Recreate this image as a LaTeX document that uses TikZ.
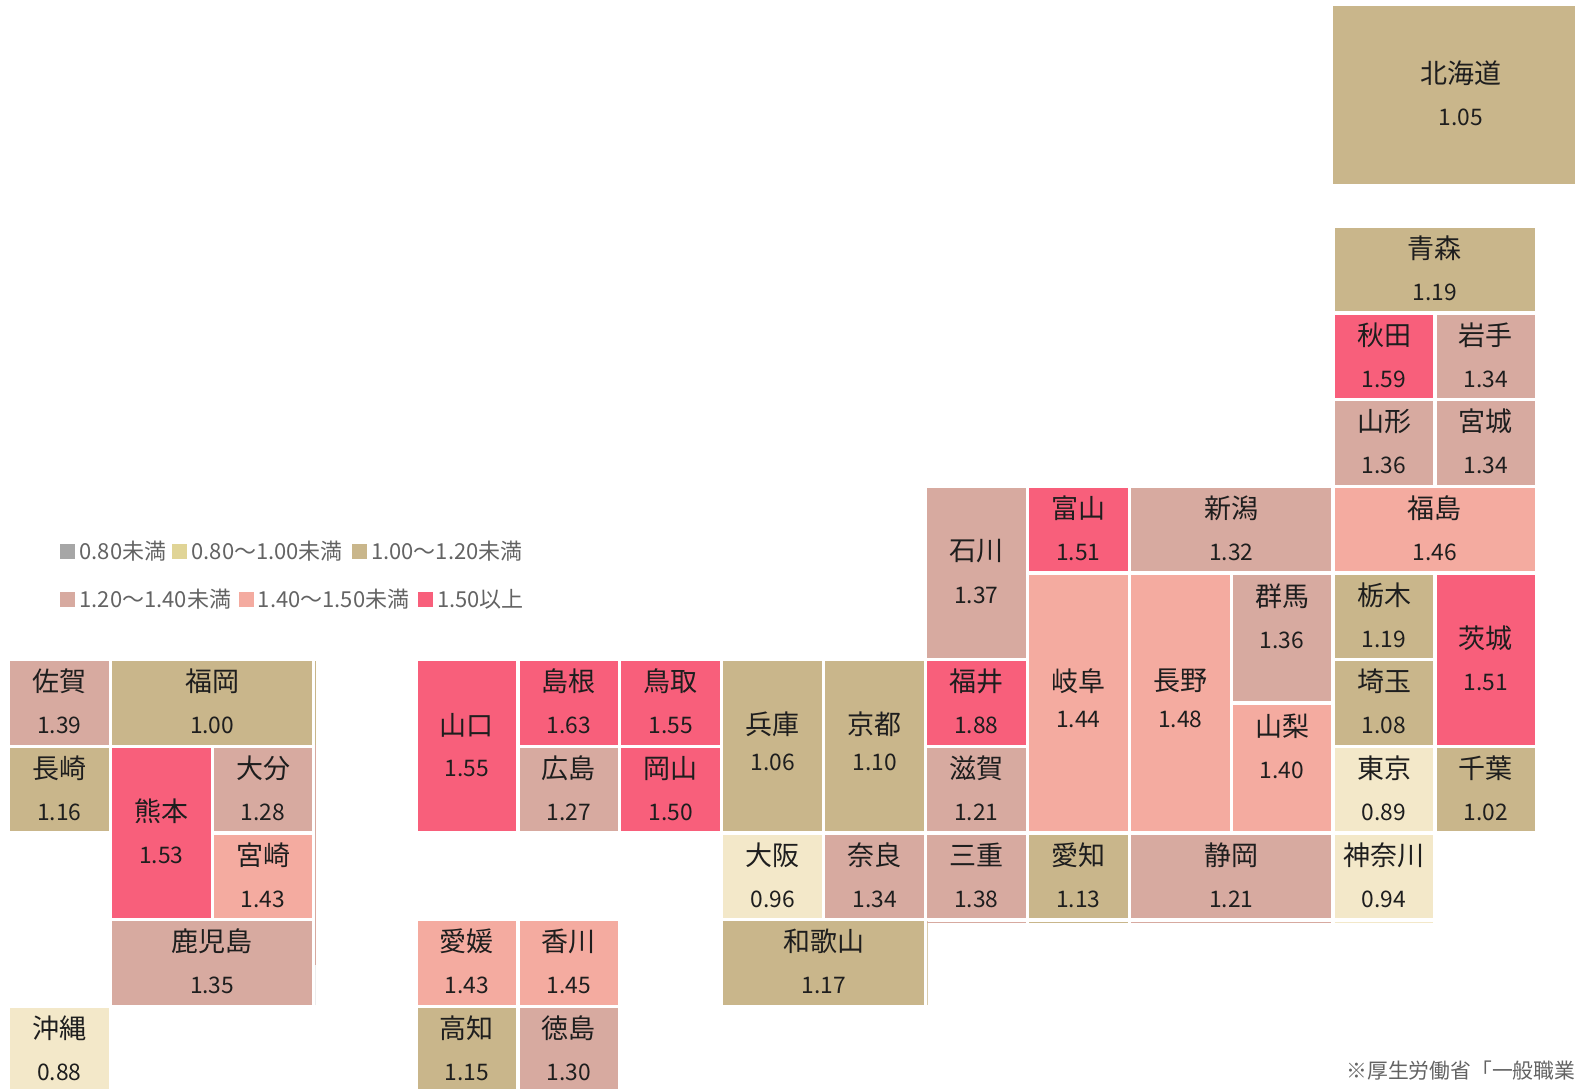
\documentclass[tikz,border=0pt]{standalone}
\usepackage{fontspec}
\setmainfont{Noto Sans CJK JP}

\definecolor{lvA}{HTML}{A6A6A6}
\definecolor{lvB}{HTML}{F3E8C9}
\definecolor{lvBkey}{HTML}{E0D496}
\definecolor{lvC}{HTML}{C9B68B}
\definecolor{lvD}{HTML}{D7AAA0}
\definecolor{lvE}{HTML}{F4ABA0}
\definecolor{lvF}{HTML}{F85F7B}
\definecolor{ink}{HTML}{1E1E1E}
\definecolor{note}{HTML}{636363}

\begin{document}
\begin{tikzpicture}[
    x=0.5pt, y=-0.5pt,
    tile/.style={rectangle, inner sep=0pt, outer sep=0pt, minimum width=49.3pt, minimum height=41.7pt},
    wide/.style={minimum width=100.25pt},
    tall/.style={minimum height=85.035pt},
    taller/.style={minimum height=128.37pt},
    half/.style={minimum height=63.35pt},
    pname/.style={font=\fontsize{13.5}{16}\selectfont, text=ink, inner sep=0pt},
    pval/.style={font=\fontsize{11.4}{14}\selectfont, text=ink, inner sep=0pt},
    key/.style={rectangle, inner sep=0pt, minimum size=7.5pt},
    keytext/.style={font=\fontsize{11}{13}\selectfont, text=note, inner sep=0pt, anchor=west},
    seam/.style={line width=0.5pt}
  ]

    \useasboundingbox (0,0) rectangle (1575,1088);
    \clip (0,0) rectangle (1575,1088);

    % Prefecture tile with its name and ratio
    \def\nshift{10.75pt}
    \def\vshift{-11.25pt}
    \def\pref#1#2#3#4#5{%
      \node[tile, #2] (#1) at #3 {};
      \node[pname] (#1-name) at ([yshift=\nshift]#1.center) {#4};
      \node[pval] (#1-val) at ([yshift=\vshift]#1.center) {#5};
    }

    % Hokkaido and Tohoku
    \pref{hokkaido}{fill=lvC, minimum width=128pt, minimum height=89pt}{(1461,95)}{北海道}{1.05}
    \pref{aomori}{fill=lvC, wide}{(1434.95,269.7)}{青森}{1.19}
    \pref{akita}{fill=lvF}{(1384,356.37)}{秋田}{1.59}
    \pref{iwate}{fill=lvD}{(1485.9,356.37)}{岩手}{1.34}
    \pref{yamagata}{fill=lvD}{(1384,443.03)}{山形}{1.36}
    \pref{miyagi}{fill=lvD}{(1485.9,443.03)}{宮城}{1.34}
    \pref{fukushima}{fill=lvE, wide}{(1434.95,529.7)}{福島}{1.46}

    % Kanto
    \pref{tochigi}{fill=lvC}{(1384,616.37)}{栃木}{1.19}
    \pref{ibaraki}{fill=lvF, tall}{(1485.9,659.7)}{茨城}{1.51}
    \pref{saitama}{fill=lvC}{(1384,703.03)}{埼玉}{1.08}
    \pref{tokyo}{fill=lvB}{(1384,789.7)}{東京}{0.89}
    \pref{chiba}{fill=lvC}{(1485.9,789.7)}{千葉}{1.02}
    \pref{kanagawa}{fill=lvB}{(1384,876.37)}{神奈川}{0.94}
    {\def\nshift{21pt}\def\vshift{-1pt}
    \pref{gunma}{fill=lvD, half}{(1282.1,638)}{群馬}{1.36}
    \pref{yamanashi}{fill=lvE, half}{(1282.1,768)}{山梨}{1.40}}

    % Chubu
    \pref{ishikawa}{fill=lvD, tall}{(976.4,573.03)}{石川}{1.37}
    \pref{toyama}{fill=lvF}{(1078.3,529.7)}{富山}{1.51}
    \pref{niigata}{fill=lvD, wide}{(1231.15,529.7)}{新潟}{1.32}
    \pref{fukui}{fill=lvF}{(976.4,703.03)}{福井}{1.88}
    \pref{aichi}{fill=lvC}{(1078.3,876.37)}{愛知}{1.13}
    \pref{shizuoka}{fill=lvD, wide}{(1231.15,876.37)}{静岡}{1.21}
    {\def\nshift{11pt}\def\vshift{-8pt}
    \pref{gifu}{fill=lvE, taller}{(1078.3,703.04)}{岐阜}{1.44}
    \pref{nagano}{fill=lvE, taller}{(1180.2,703.04)}{長野}{1.48}
    \pref{hyogo}{fill=lvC, tall}{(772.6,746.37)}{兵庫}{1.06}
    \pref{kyoto}{fill=lvC, tall}{(874.5,746.37)}{京都}{1.10}}

    % Kinki
    \pref{shiga}{fill=lvD}{(976.4,789.7)}{滋賀}{1.21}
    \pref{mie}{fill=lvD}{(976.4,876.37)}{三重}{1.38}
    \pref{osaka}{fill=lvB}{(772.6,876.37)}{大阪}{0.96}
    \pref{nara}{fill=lvD}{(874.5,876.37)}{奈良}{1.34}
    \pref{wakayama}{fill=lvC, wide}{(823.55,963.03)}{和歌山}{1.17}

    % Chugoku
    \pref{yamaguchi}{fill=lvF, tall}{(466.9,746.37)}{山口}{1.55}
    \pref{shimane}{fill=lvF}{(568.8,703.03)}{島根}{1.63}
    \pref{tottori}{fill=lvF}{(670.7,703.03)}{鳥取}{1.55}
    \pref{hiroshima}{fill=lvD}{(568.8,789.7)}{広島}{1.27}
    \pref{okayama}{fill=lvF}{(670.7,789.7)}{岡山}{1.50}

    % Shikoku
    \pref{ehime}{fill=lvE}{(466.9,963.03)}{愛媛}{1.43}
    \pref{kagawa}{fill=lvE}{(568.8,963.03)}{香川}{1.45}
    \pref{kochi}{fill=lvC}{(466.9,1049.7)}{高知}{1.15}
    \pref{tokushima}{fill=lvD}{(568.8,1049.7)}{徳島}{1.30}

    % Kyushu and Okinawa
    \pref{saga}{fill=lvD}{(59.3,703.03)}{佐賀}{1.39}
    \pref{fukuoka}{fill=lvC, wide}{(212.15,703.03)}{福岡}{1.00}
    \pref{nagasaki}{fill=lvC}{(59.3,789.7)}{長崎}{1.16}
    \pref{kumamoto}{fill=lvF, tall}{(161.2,833.03)}{熊本}{1.53}
    \pref{oita}{fill=lvD}{(263.1,789.7)}{大分}{1.28}
    \pref{miyazaki}{fill=lvE}{(263.1,876.37)}{宮崎}{1.43}
    \pref{kagoshima}{fill=lvD, wide}{(212.15,963.03)}{鹿児島}{1.35}
    \pref{okinawa}{fill=lvB}{(59.3,1049.7)}{沖縄}{0.88}

    % Thin seams left beside some tiles
    \draw[seam, lvC] (315,661.3) -- (315,745);
    \draw[seam, lvD] (315,745) -- (315,965);
    \draw[seam, black!7] (315,965) -- (315,1005);
    \draw[seam, lvC!70] (927,921.3) -- (927,1004.7);
    \draw[seam, lvD] (927.1,922.6) -- (1025.7,922.6);
    \draw[seam, lvC] (1029,922.6) -- (1127.6,922.6);
    \draw[seam, lvD] (1130.9,922.6) -- (1331.4,922.6);
    \draw[seam, lvB] (1334.7,922.6) -- (1433.3,922.6);

    % Legend
    \node[key, fill=lvA] (keyA) at (67.8,551) {};
    \node[keytext] (keyA-t) at ([xshift=1.75pt, yshift=-0.3pt]keyA.east) {0.80未満};
    \node[key, fill=lvBkey] (keyB) at (179.7,551) {};
    \node[keytext] (keyB-t) at ([xshift=1.75pt, yshift=-0.3pt]keyB.east) {0.80～1.00未満};
    \node[key, fill=lvC] (keyC) at (359.4,551) {};
    \node[keytext] (keyC-t) at ([xshift=1.75pt, yshift=-0.3pt]keyC.east) {1.00～1.20未満};
    \node[key, fill=lvD] (keyD) at (67.8,599) {};
    \node[keytext] (keyD-t) at ([xshift=1.75pt, yshift=-0.3pt]keyD.east) {1.20～1.40未満};
    \node[key, fill=lvE] (keyE) at (246.1,599) {};
    \node[keytext] (keyE-t) at ([xshift=1.75pt, yshift=-0.3pt]keyE.east) {1.40～1.50未満};
    \node[key, fill=lvF] (keyF) at (425.2,599) {};
    \node[keytext] (keyF-t) at ([xshift=1.75pt, yshift=-0.3pt]keyF.east) {1.50以上};

    % Source note
    \node[anchor=west, inner sep=0pt, font=\fontsize{10.4}{12}\selectfont, text=note] (source) at (1346,1071) {※厚生労働省「一般職業};

  \end{tikzpicture}
\end{document}
